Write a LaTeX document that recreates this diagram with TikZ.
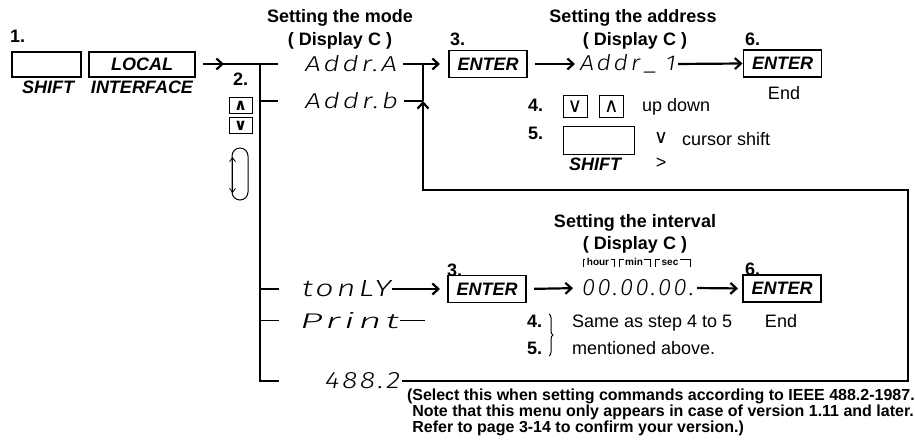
\documentclass[tikz,border=0pt]{standalone}
\usepackage{fontspec}
\usepackage{graphicx}
\setmainfont{Liberation Sans}
\newfontfamily\symf{DejaVu Sans}
\newfontfamily\segf{Fira Sans Light}[LetterSpace=10]
\usetikzlibrary{arrows.meta,calc,decorations.pathreplacing}
\newcommand{\sseg}[2]{\resizebox{#1pt}{16pt}{\segf\itshape #2}}
\begin{document}
\begin{tikzpicture}[x=1pt,y=-1pt,
  every node/.style={inner sep=0pt, outer sep=0pt},
  bl/.style={font=\fontsize{18}{20}\selectfont\bfseries, anchor=base},
  bi/.style={font=\fontsize{18}{20}\selectfont\bfseries\itshape, anchor=base},
  rg/.style={font=\fontsize{18}{20}\selectfont, anchor=base},
  keybox/.style={draw, line width=1.1pt, minimum width=78pt, minimum height=27pt, font=\fontsize{18}{20}\selectfont\bfseries\itshape},
  btn/.style={draw, line width=1pt, minimum width=23pt, minimum height=16pt, font=\symf\fontsize{16}{16}\selectfont\bfseries},
  btnb/.style={draw, line width=1pt, minimum width=24pt, minimum height=22pt, font=\symf\fontsize{20}{20}\selectfont},
  seg/.style={anchor=west},
  thk/.style={line width=2.4pt},
  thn/.style={line width=1pt},
  tiny/.style={font=\fontsize{10}{10}\selectfont\bfseries, anchor=base},
  brk/.style={line width=0.7pt},
  arr/.style={line width=2.2pt, -{Straight Barb[length=6pt,width=11pt]}},
  dbl/.style={line width=0.8pt, {Straight Barb[length=4pt,width=6pt]}-{Straight Barb[length=4pt,width=6pt]}},
]
\useasboundingbox (0,0) rectangle (915,443);

% left part
\node[bl, anchor=base west] (n1) at (10,43) {1.};
\node[draw, line width=1.1pt, minimum width=69pt, minimum height=25pt] (shiftbox) at (46.5,64.5) {};
\node[draw, line width=1.1pt, minimum width=106pt, minimum height=25pt, font=\fontsize{18}{20}\selectfont\bfseries\itshape] (localbox) at (142,64.5) {LOCAL};
\node[bi] (shiftlbl) at (48,94) {SHIFT};
\node[bi] (iflbl) at (142,94) {INTERFACE};
\node[bl, anchor=base west] (n2) at (233,86) {2.};
\node[btn] (upbtn) at (240.5,106) {∧};
\node[btn] (dnbtn) at (240.5,126) {∨};
\node[draw, thn, rounded corners=8pt, minimum width=16pt, minimum height=52pt] (oval) at (240,174) {};
\draw[dbl] ($(oval.west)+(0.5,-17)$) -- ($(oval.west)+(0.5,19)$);

% mode
\node[bl] (modeT) at (340,23) {Setting the mode};
\node[bl] (modeD) at (340,46) {( Display C )};
\node[seg] (addrA) at (305,64) {\sseg{92}{Addr.A}};
\node[seg] (addrB) at (305,101) {\sseg{93}{Addr.b}};
\node[seg] (tonly) at (302,289) {\sseg{89}{tonLY}};
\node[seg] (print) at (300,321) {\sseg{99}{Print}};
\node[seg] (v4882) at (325,381) {\sseg{75}{488.2}};

% address
\node[bl, anchor=base west] (n3a) at (450,46) {3.};
\node[keybox] (enterA) at (488,64) {ENTER};
\node[bl] (addrT) at (633,23) {Setting the address};
\node[bl] (addrD) at (635,46) {( Display C )};
\node[seg] (addr1) at (580,64) {\sseg{96}{Addr\,\_\,\,1}};
\node[bl, anchor=base west] (n6a) at (745,46) {6.};
\node[keybox] (enterB) at (782.5,63.5) {ENTER};
\node[rg] (endA) at (784,100) {End};
\node[bl, anchor=base west] (n4) at (528,112) {4.};
\node[btnb] (dnbtn2) at (575,107) {∨};
\node[btnb] (upbtn2) at (611.5,107) {∧};
\node[rg, anchor=base west] (updown) at (642,112) {up down};
\node[bl, anchor=base west] (n5) at (528,140) {5.};
\node[draw, line width=1pt, minimum width=71pt, minimum height=28pt] (shiftbox2) at (598.5,141) {};
\node[bi] (shiftlbl2) at (595,171) {SHIFT};
\node[font=\symf\fontsize{19}{19}\selectfont, anchor=base] (vsym) at (661,144) {∨};
\node[font=\fontsize{18}{18}\selectfont, anchor=base] (gtsym) at (661,169) {>};
\node[rg, anchor=base west] (cursor) at (682,146) {cursor shift};

% interval
\node[bl] (intT) at (635,228) {Setting the interval};
\node[bl] (intD) at (635,250) {( Display C )};
\node[tiny] (hour) at (598,266) {hour};
\node[tiny] (min) at (634,266) {min};
\node[tiny] (sec) at (670,266) {sec};
\draw[brk] (583,267) -- (583,259) -- ($(hour.west |- 0,259)+(-1.5,0)$);
\draw[brk] ($(hour.east |- 0,259)+(1.5,0)$) -- (614,259) -- (614,267);
\draw[brk] (619,267) -- (619,259) -- ($(min.west |- 0,259)+(-1.5,0)$);
\draw[brk] ($(min.east |- 0,259)+(1.5,0)$) -- (650,259) -- (650,267);
\draw[brk] (655,267) -- (655,259) -- ($(sec.west |- 0,259)+(-1.5,0)$);
\draw[brk] ($(sec.east |- 0,259)+(1.5,0)$) -- (690,259) -- (690,267);
\node[bl, anchor=base west] (n3b) at (447,277) {3.};
\node[keybox] (enterC) at (487,289) {ENTER};
\node[seg] (timev) at (582,288) {\sseg{112}{00.00.00.}};
\node[bl, anchor=base west] (n6b) at (745,276) {6.};
\node[keybox] (enterD) at (782,288.5) {ENTER};
\node[rg] (endB) at (781,328) {End};
\node[bl, anchor=base west] (n4b) at (527,328) {4.};
\node[bl, anchor=base west] (n5b) at (527,355) {5.};
\draw[thn, decorate, decoration={brace, amplitude=4pt}] (549,314) -- (549,356);
\node[rg, anchor=base west] (same) at (572,328) {Same as step 4 to 5};
\node[rg, anchor=base west] (ment) at (572,355) {mentioned above.};

% note
\node[font=\fontsize{16}{16}\selectfont\bfseries, align=left, anchor=north west] (note) at (407,389) {(Select this when setting commands according to IEEE 488.2-1987.\\\phantom{(}Note that this menu only appears in case of version 1.11 and later.\\\phantom{(}Refer to page 3-14 to confirm your version.)};

% connectors
\coordinate (tTop) at (260,64);
\coordinate (tBot) at (260,381);
\coordinate (b1) at (278,64);
\coordinate (b2) at (278,101);
\coordinate (b3) at (279,289);
\coordinate (b4) at (279,321);
\coordinate (b5) at (279,381);
\coordinate (a0) at ($(localbox.east)+(8,-0.5)$);
\draw[thk] (a0) -- (b1);
\draw[arr] (a0) -- ++(21,0);
\draw[thk] (tTop) -- (tBot) -- (b5);
\draw[thk] (b2 -| tTop) -- (b2);
\draw[thk] (b3 -| tTop) -- (b3);
\draw[thn] (b4 -| tTop) -- (b4);

\draw[arr, shorten <=6pt, shorten >=9pt] (addrA.east) -- (enterA.west);
\coordinate (lJ) at (423,101);
\coordinate (lT) at (423,64);
\draw[thk, shorten <=6pt] (addrB.east) -- (lJ);
\draw[thk] (lT) -- (lJ);
\coordinate (c1) at (908,381);
\coordinate (c2) at (908,190);
\coordinate (c3) at (423,190);
\draw[arr, shorten <=2pt] (v4882.east) -- (c1) -- (c2) -- (c3) -- (lJ);

\draw[arr, shorten <=8pt, shorten >=5pt] (enterA.east) -- (addr1.west);
\draw[arr, shorten <=2pt, shorten >=1pt] (addr1.east) -- (enterB.west);
\draw[arr, shorten <=1pt, shorten >=8pt] (tonly.east) -- (enterC.west);
\draw[arr, shorten <=8pt, shorten >=9pt] (enterC.east) -- (timev.west);
\draw[arr, shorten <=3pt, shorten >=5pt] (timev.east) -- (enterD.west);
\draw[thn, shorten <=1pt] (print.east) -- ++(26,0);
\end{tikzpicture}
\end{document}
